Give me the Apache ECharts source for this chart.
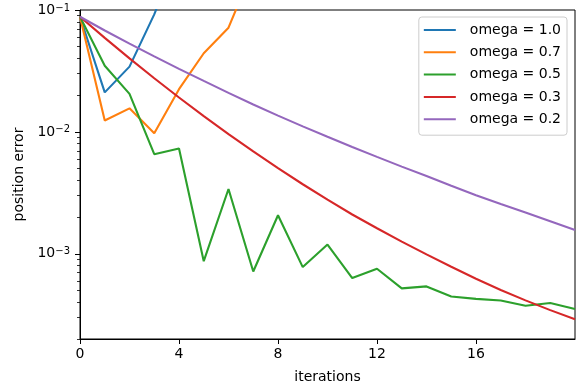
<!DOCTYPE html>
<html>
<head>
<meta charset="utf-8">
<script src="https://cdn.jsdelivr.net/npm/echarts@6/dist/echarts.min.js"></script>
<style>
  html, body { margin: 0; padding: 0; background: #fff; }
  #chart { width: 577px; height: 390px; }
</style>
</head>
<body>
<div id="chart"></div>
<script>
// position error per iteration
const iterations = [0, 1, 2, 3, 4, 5, 6, 7, 8, 9, 10, 11, 12, 13, 14, 15, 16, 17, 18, 19, 20]
const errOmega10 = [0.088, 0.0211, 0.0343, 0.092, 0.3, 1.2, 5]
const errOmega07 = [0.088, 0.0124, 0.0156, 0.00976, 0.0224, 0.0442, 0.0716, 0.22, 0.7]
const errOmega05 = [0.088, 0.0349, 0.0205, 0.00656, 0.00732, 0.00087, 0.0034, 0.000716, 0.00207, 0.000778,
  0.00119, 0.000632, 0.000754, 0.00052, 0.00054, 0.000447, 0.000427, 0.000414, 0.000375, 0.000395, 0.000352]
const errOmega03 = [0.088, 0.0591, 0.0401, 0.02755, 0.01915, 0.01348, 0.00959, 0.00691, 0.00504, 0.00372,
  0.00278, 0.0021, 0.00162, 0.00126, 0.00099, 0.000783, 0.000624, 0.000505, 0.000415, 0.000345, 0.00029]
const errOmega02 = [0.088, 0.0679, 0.053, 0.0416, 0.0329, 0.0262, 0.0209, 0.0168, 0.0136, 0.0111,
  0.00912, 0.00753, 0.00624, 0.00519, 0.00434, 0.00361, 0.00302, 0.00256, 0.00218, 0.00185, 0.00157]

const seriesNames = ['omega = 1.0', 'omega = 0.7', 'omega = 0.5', 'omega = 0.3', 'omega = 0.2']
const seriesValues = [errOmega10, errOmega07, errOmega05, errOmega03, errOmega02]
const colors = ['#1f77b4', '#ff7f0e', '#2ca02c', '#d62728', '#9467bd']

const yMin = 2e-4
const yMax = 0.1
const majorExp = [-3, -2, -1]
const minorMult = [2, 3, 4, 5, 6, 7, 8, 9]

// y axis is drawn in log10 space so the ticks can be placed like matplotlib's
const lg = v => Math.log10(v)
const minorTicks = []
;[-4, -3, -2].forEach(e => {
  minorMult.forEach(m => {
    const v = lg(m) + e
    if (v >= lg(yMin) - 1e-9 && v <= lg(yMax)) minorTicks.push(v)
  })
})

const font = 'DejaVu Sans'
const supText = e => '{b|10}{s|\u2212' + Math.abs(e) + '}'

const chart = echarts.init(document.getElementById('chart'), null, { renderer: 'canvas' })

const option = {
  animation: false,
  textStyle: { fontFamily: font, color: '#000' },
  grid: {
    left: 80, right: 2, top: 10, bottom: 51,
    outerBoundsMode: 'none',
    show: true, borderColor: '#000', borderWidth: 1, backgroundColor: 'transparent'
  },
  legend: {
    orient: 'vertical',
    right: 10,
    top: 17,
    data: seriesNames,
    itemWidth: 32,
    itemHeight: 14,
    itemGap: 8.3,
    padding: [6, 6, 9, 5],
    backgroundColor: 'rgba(255,255,255,0.8)',
    borderColor: '#cccccc',
    borderWidth: 1,
    borderRadius: 3,
    textStyle: { fontFamily: font, fontSize: 14, color: '#000', padding: [0, 0, 0, 9] },
    icon: 'path://M0,0 L32,0 L32,2 L0,2 Z'
  },
  xAxis: {
    type: 'value',
    min: 0,
    max: 20,
    interval: 4,
    name: 'iterations',
    nameLocation: 'middle',
    nameGap: 31,
    nameTextStyle: { fontFamily: font, fontSize: 14, color: '#000' },
    axisLine: { show: true, onZero: false, lineStyle: { color: '#000', width: 1 } },
    axisTick: { show: true, length: 5, lineStyle: { color: '#000', width: 1 } },
    axisLabel: { fontFamily: font, fontSize: 14, color: '#000', margin: 8, showMaxLabel: false },
    splitLine: { show: false }
  },
  yAxis: [
    {
      type: 'value',
      min: lg(yMin),
      max: lg(yMax),
      name: 'position error',
      nameLocation: 'middle',
      nameGap: 49,
      nameTextStyle: { fontFamily: font, fontSize: 14, color: '#000' },
      axisLine: { show: true, onZero: false, lineStyle: { color: '#000', width: 1 } },
      axisTick: { show: true, length: 5, customValues: majorExp, lineStyle: { color: '#000', width: 1 } },
      axisLabel: {
        customValues: majorExp,
        margin: 10,
        formatter: v => supText(Math.round(v)),
        rich: {
          b: { fontFamily: font, fontSize: 14, color: '#000' },
          s: { fontFamily: font, fontSize: 10, color: '#000', verticalAlign: 'top', padding: [0, 0, 4, 0] }
        }
      },
      splitLine: { show: false }
    },
    {
      type: 'value',
      min: lg(yMin),
      max: lg(yMax),
      position: 'left',
      axisLine: { show: false },
      axisTick: { show: true, length: 3, customValues: minorTicks, lineStyle: { color: '#000', width: 0.8 } },
      axisLabel: { show: false },
      splitLine: { show: false }
    }
  ],
  series: seriesValues.map((vals, k) => ({
    name: seriesNames[k],
    type: 'line',
    yAxisIndex: 0,
    symbol: 'none',
    clip: true,
    color: colors[k],
    lineStyle: { color: colors[k], width: 2.1 },
    data: vals.map((v, i) => [iterations[i], lg(v)])
  }))
}

chart.setOption(option)
</script>
</body>
</html>
